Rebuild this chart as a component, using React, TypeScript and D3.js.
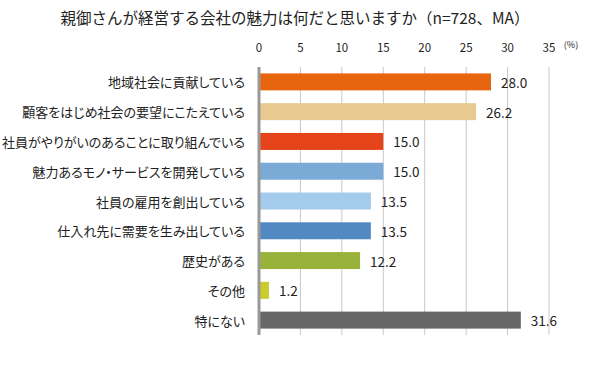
import React from 'react';
import * as d3 from 'd3';

const categories = [
  '地域社会に貢献している',
  '顧客をはじめ社会の要望にこたえている',
  '社員がやりがいのあることに取り組んでいる',
  '魅力あるモノ・サービスを開発している',
  '社員の雇用を創出している',
  '仕入れ先に需要を生み出している',
  '歴史がある',
  'その他',
  '特にない',
];
const values = [28.0, 26.2, 15.0, 15.0, 13.5, 13.5, 12.2, 1.2, 31.6];
const colors = ['#E8650F', '#E8C98F', '#E5441A', '#7BAAD7', '#A5CBEC', '#5389C3', '#99B33A', '#C9CC2B', '#666666'];
const ticks = [0, 5, 10, 15, 20, 25, 30, 35];

const W = 589;
const H = 366;
const font = '"Noto Sans CJK JP", "Noto Sans", sans-serif';
const palt: React.CSSProperties = { fontFeatureSettings: '"palt"' };

const App: React.FC = () => {
  const x = d3.scaleLinear().domain([0, 35]).range([259, 549]);
  const y = d3.scaleBand<string>().domain(categories).range([67, 335]).paddingInner(0.43).paddingOuter(0.215);

  return (
    <svg width={W} height={H} style={{ position: 'absolute', left: 0, top: 0 }}>
      <rect width={W} height={H} fill="#fff" />
      <text x={295} y={24} textAnchor="middle" fontSize={15.5} fontFamily={font} fill="#222">
        親御さんが経営する会社の魅力は何だと思いますか（n=728、MA）
      </text>
      {/* grid + ticks */}
      {ticks.map(t => (
        <g key={t}>
          {t > 0 && <line x1={x(t)} x2={x(t)} y1={67} y2={335} stroke="#c8c8c8" strokeWidth={1} />}
          <text x={x(t)} y={52} textAnchor="middle" fontSize={11.5} fontFamily={font} fill="#222">{t}</text>
        </g>
      ))}
      <text x={571} y={48} textAnchor="middle" fontSize={9} fontFamily={font} fill="#222">(%)</text>
      {/* bars */}
      {categories.map((c, i) => (
        <g key={c}>
          <rect x={x(0)} y={y(c)} width={x(values[i]) - x(0)} height={y.bandwidth()} fill={colors[i]} />
          <text x={x(values[i]) + 10} y={(y(c) ?? 0) + y.bandwidth() / 2} dominantBaseline="central" fontSize={13.5} fontFamily={font} fill="#222">
            {values[i].toFixed(1)}
          </text>
          <text x={245} y={(y(c) ?? 0) + y.bandwidth() / 2} textAnchor="end" dominantBaseline="central" fontSize={13} fontFamily={font} fill="#222" style={palt}>
            {c}
          </text>
        </g>
      ))}
      <line x1={x(0)} x2={x(0)} y1={67} y2={335} stroke="#999" strokeWidth={3} />
    </svg>
  );
};

export default App;
